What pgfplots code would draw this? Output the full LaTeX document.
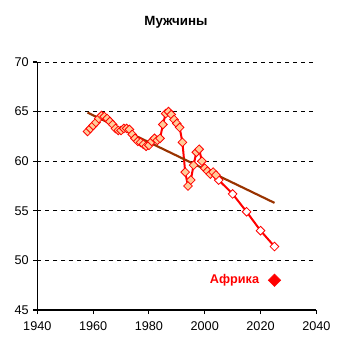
\documentclass[border=0pt]{standalone}
\usepackage{pgfplots}
\pgfplotsset{compat=1.18}
\usepackage{fontspec}
\setmainfont{Liberation Sans}
\definecolor{peach}{HTML}{FFCC99}
\definecolor{trend}{HTML}{993300}
\begin{document}
\begin{tikzpicture}
\path[use as bounding box] (-28pt,-31.5pt) rectangle (230.75pt,232.5pt);
\begin{axis}[
  scale only axis, width=209.25pt, height=186pt,
  xmin=1940, xmax=2040, ymin=45, ymax=70,
  xtick={1940,1960,...,2040}, ytick={45,50,...,70},
  axis x line=bottom, axis y line=left,
  axis line style={-, black, line width=0.8pt},
  tick style={black, line width=0.8pt},
  tick align=outside, major tick length=3pt,
  xtick pos=bottom, ytick pos=left,
  ymajorgrids, grid style={black, dashed, line width=0.7pt},
  /pgf/number format/assume math mode=true,
  /pgf/number format/1000 sep={},
  ticklabel style={font=\fontsize{9.5}{11}\selectfont},
  xticklabel style={yshift=-2pt},
  clip=false,
]
\addplot[red, line width=1.5pt, mark=square*, mark size=2.3pt,
  mark options={rotate=45, fill=white, draw=red, line width=0.6pt}]
  coordinates {(2004,58.6)(2005,58.1)(2010,56.7)(2015,54.9)(2020,53.0)(2025,51.4)};
\addplot[red, line width=1.5pt, mark=square*, mark size=2.3pt,
  mark options={rotate=45, fill=peach, draw=red, line width=0.6pt}]
  coordinates {
  (1958,63.0)(1959,63.3)(1960,63.6)(1961,63.9)(1962,64.3)(1963,64.6)
  (1964,64.5)(1965,64.3)(1966,64.0)(1967,63.7)(1968,63.3)(1969,63.1)
  (1970,63.1)(1971,63.3)(1972,63.3)(1973,63.2)(1974,62.7)(1975,62.3)
  (1976,62.0)(1977,61.9)(1978,61.7)(1979,61.5)(1980,61.6)(1981,62.0)
  (1982,62.3)(1983,62.1)(1984,62.3)(1985,63.7)(1986,64.8)(1987,65.0)
  (1988,64.7)(1989,64.2)(1990,63.8)(1991,63.4)(1992,61.9)(1993,58.9)
  (1994,57.5)(1995,58.1)(1996,59.6)(1997,60.9)(1998,61.2)(1999,60.0)
  (2000,59.3)(2001,59.0)(2002,58.7)(2003,58.9)(2004,58.6)};
\addplot[trend, line width=1.6pt] coordinates {(1958,64.9)(2025,55.8)};
\addplot[only marks, mark=square*, mark size=3.3pt,
  mark options={rotate=45, fill=red, draw=red}]
  coordinates {(2025,48)} node[anchor=east, xshift=-8pt, text=red,
  font=\fontsize{9.5}{11}\selectfont\bfseries] {Африка};
\node[font=\fontsize{10}{12}\selectfont\bfseries] at (rel axis cs:0.497,1.161) {Мужчины};
\end{axis}
\end{tikzpicture}
\end{document}
